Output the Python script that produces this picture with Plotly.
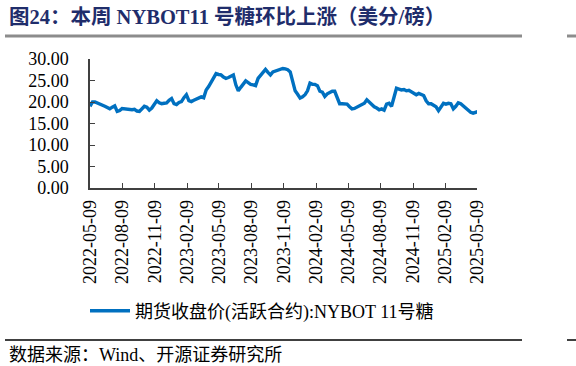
import pandas as pd
import plotly.graph_objects as go

# Weekly closing prices, NYBOT No.11 sugar (US cents/lb)
start_date = "2022-05-09"
prices = [
    19.0, 20.0, 20.0, 19.8, 19.5, 19.2, 19.0, 18.7, 18.4, 18.8,
    19.1, 17.8, 18.0, 18.5, 18.4, 18.4, 18.3, 18.2, 18.3, 17.9,
    17.8, 18.3, 19.0, 18.8, 18.1, 18.6, 19.5, 20.3, 19.8, 19.6,
    19.7, 19.8, 20.4, 20.8, 19.6, 19.4, 19.9, 20.1, 21.0, 21.7,
    20.3, 20.1, 20.4, 20.7, 21.1, 21.2, 21.0, 22.8, 23.6, 24.6,
    25.5, 26.6, 26.4, 26.3, 25.8, 25.5, 25.7, 26.0, 26.3, 24.0,
    22.6, 23.4, 24.3, 24.9, 24.5, 24.1, 24.0, 23.8, 25.5, 26.2,
    27.0, 27.6, 26.9, 26.3, 27.0, 27.2, 27.4, 27.5, 27.8, 27.7,
    27.5, 27.0, 24.5, 22.6, 21.8, 20.9, 21.2, 21.7, 22.6, 24.4,
    24.1, 24.1, 23.8, 22.5, 22.3, 21.3, 21.9, 22.3, 22.5, 22.5,
    21.0, 19.6, 19.6, 19.6, 19.5, 18.9, 18.4, 18.5, 18.8, 19.1,
    19.2, 19.7, 20.5, 20.0, 19.3, 18.9, 18.6, 18.2, 18.4, 18.1,
    19.5, 19.7, 19.0, 20.8, 23.2, 23.0, 22.8, 22.9, 22.6, 22.7,
    22.3, 22.0, 21.7, 22.0, 21.8, 21.5, 20.3, 19.6, 19.6, 19.3,
    18.9, 18.0, 18.9, 19.7, 19.5, 19.7, 19.6, 18.4, 19.0, 19.8,
    19.6, 19.1, 18.5, 17.9, 17.6, 17.4, 17.5, 17.8,
]
dates = pd.date_range(start_date, periods=len(prices), freq="7D")

tick_labels = [
    "2022-05-09", "2022-08-09", "2022-11-09", "2023-02-09", "2023-05-09",
    "2023-08-09", "2023-11-09", "2024-02-09", "2024-05-09", "2024-08-09",
    "2024-11-09", "2025-02-09", "2025-05-09",
]
y_ticks = [0, 5, 10, 15, 20, 25, 30]
y_tick_text = ["0.00", "5.00", "10.00", "15.00", "20.00", "25.00", "30.00"]

series_name = "期货收盘价(活跃合约):NYBOT 11号糖"
title_text = "<b>图24：本周 NYBOT11 号糖环比上涨（美分/磅）</b>"
source_text = "数据来源：Wind、开源证券研究所"

FONT = "Liberation Serif, 'Times New Roman', 'Noto Sans CJK SC', serif"
LINE_BLUE = "#0070C0"
TITLE_BLUE = "#1F2D6B"
AXIS_COLOR = "#404040"

fig = go.Figure()
fig.add_trace(go.Scatter(
    x=dates, y=prices, mode="lines", name=series_name,
    line=dict(color=LINE_BLUE, width=3.4),
))

fig.update_layout(
    width=576, height=366,
    margin=dict(l=90, r=99, t=59, b=178, autoexpand=False),
    paper_bgcolor="white", plot_bgcolor="white",
    font=dict(family=FONT, size=18, color="black"),
    showlegend=True,
    legend=dict(
        orientation="h", xref="container", yref="container",
        x=85 / 576, xanchor="left", y=1 - 311 / 366, yanchor="middle",
        font=dict(family=FONT, size=18, color="black"),
        bgcolor="rgba(0,0,0,0)", itemwidth=40,
    ),
    xaxis=dict(
        range=[tick_labels[0], tick_labels[-1]],
        tickvals=tick_labels, ticktext=tick_labels,
        tickangle=-90, ticks="inside", ticklen=5, tickwidth=1,
        tickcolor=AXIS_COLOR, showline=True, linecolor=AXIS_COLOR,
        linewidth=1.5, showgrid=False, zeroline=False,
        tickfont=dict(family=FONT, size=18), ticklabelstandoff=3,
    ),
    yaxis=dict(
        range=[0, 30], tickvals=y_ticks, ticktext=y_tick_text,
        ticks="inside", ticklen=5, tickwidth=1, tickcolor=AXIS_COLOR,
        showline=True, linecolor=AXIS_COLOR, linewidth=1.5,
        showgrid=False, zeroline=False,
        tickfont=dict(family=FONT, size=18), ticklabelstandoff=16,
    ),
)

fig.add_annotation(
    text=title_text, xref="paper", yref="paper",
    x=-83 / 387, y=1 + (59 - 17) / 129, xanchor="left", yanchor="middle",
    showarrow=False, font=dict(family=FONT, size=20.5, color=TITLE_BLUE),
)
fig.add_annotation(
    text=source_text, xref="paper", yref="paper",
    x=-83 / 387, y=-(355 - 188) / 129, xanchor="left", yanchor="middle",
    showarrow=False, font=dict(family=FONT, size=18, color="black"),
)

# separator rules
fig.add_shape(type="line", xref="paper", yref="paper",
              x0=-85 / 387, x1=(522 - 90) / 387,
              y0=1 + (59 - 36) / 129, y1=1 + (59 - 36) / 129,
              line=dict(color="#8C8C8C", width=3))
fig.add_shape(type="line", xref="paper", yref="paper",
              x0=-85 / 387, x1=(522 - 90) / 387,
              y0=-(340 - 188) / 129, y1=-(340 - 188) / 129,
              line=dict(color="black", width=1.5))
fig.add_shape(type="line", xref="paper", yref="paper",
              x0=(567 - 90) / 387, x1=(580 - 90) / 387,
              y0=1 + (59 - 36) / 129, y1=1 + (59 - 36) / 129,
              line=dict(color="#8C8C8C", width=3))
fig.add_shape(type="line", xref="paper", yref="paper",
              x0=(567 - 90) / 387, x1=(580 - 90) / 387,
              y0=-(340 - 188) / 129, y1=-(340 - 188) / 129,
              line=dict(color="black", width=1.5))

fig.write_html(
    "out.html",
    config={"displayModeBar": False},
    post_script="document.body.style.margin='0px';document.body.style.overflow='hidden';",
)
